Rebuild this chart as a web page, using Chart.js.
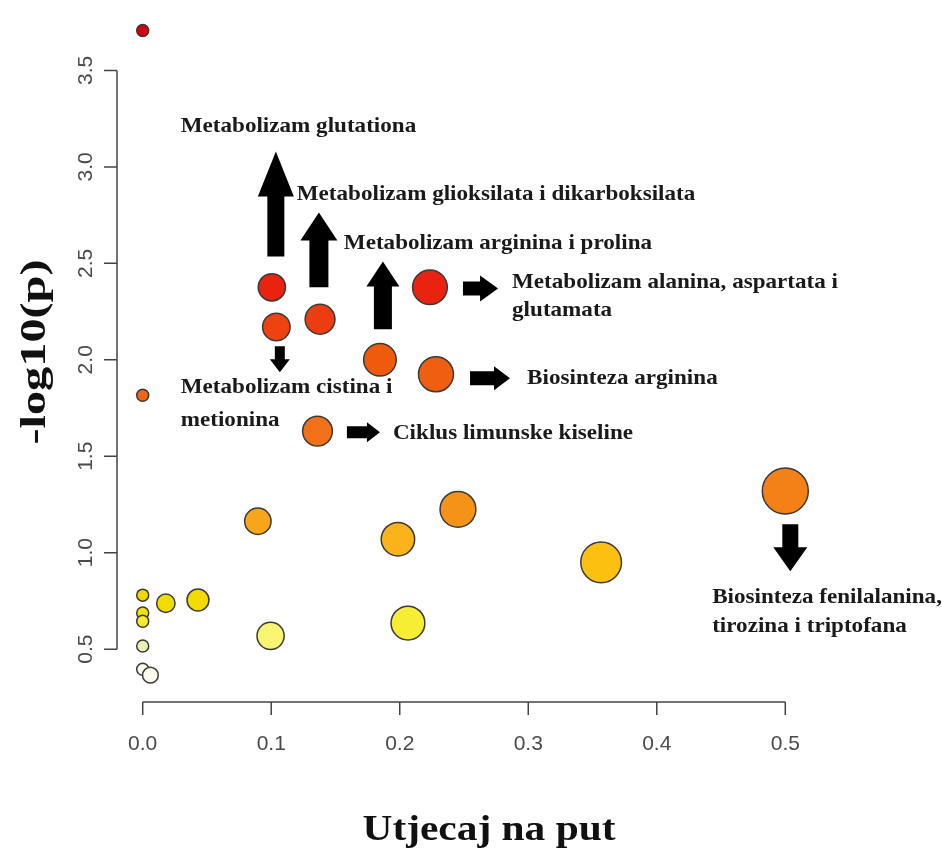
<!DOCTYPE html>
<html>
<head>
<meta charset="utf-8">
<script src="https://cdn.jsdelivr.net/npm/chart.js@4/dist/chart.umd.min.js"></script>
<style>
  body { margin: 0; background: #fff; }
  #wrap { width: 942px; height: 848px; }
</style>
</head>
<body>
<div id="wrap"><canvas id="chart" width="942" height="848"></canvas></div>
<script>
// pathway impact (x) and -log10(p) (y), one entry per pathway
const impact = [0, 0, 0, 0, 0, 0, 0, 0.006, 0.018, 0.043, 0.0995, 0.0896,
  0.1005, 0.104, 0.138, 0.136, 0.1846, 0.2235, 0.2282, 0.1986, 0.2064, 0.2453, 0.3567, 0.5];
const logP = [3.707, 1.816, 0.78, 0.687, 0.645, 0.516, 0.396, 0.365, 0.738, 0.755, 0.569, 1.163,
  2.376, 2.17, 2.21, 1.63, 2.0, 2.376, 1.925, 1.07, 0.635, 1.225, 0.95, 1.32];

const xTicks = [0, 0.1, 0.2, 0.3, 0.4, 0.5];
const yTicks = [0.5, 1.0, 1.5, 2.0, 2.5, 3.0, 3.5];

const xTitle = 'Utjecaj na put';
const yTitle = '-log10(p)';

// annotation labels: text, x, y (data units), left aligned
const labels = [
  ['Metabolizam glutationa', 0.0296, 3.210],
  ['Metabolizam glioksilata i dikarboksilata', 0.1199, 2.858],
  ['Metabolizam arginina i prolina', 0.1565, 2.604],
  ['Metabolizam alanina, aspartata i', 0.2874, 2.402],
  ['glutamata', 0.2874, 2.256],
  ['Metabolizam cistina i', 0.0296, 1.858],
  ['metionina', 0.0296, 1.687],
  ['Biosinteza arginina', 0.2991, 1.904],
  ['Ciklus limunske kiseline', 0.1947, 1.619],
  ['Biosinteza fenilalanina,', 0.4431, 0.769],
  ['tirozina i triptofana', 0.4431, 0.619]
];

// arrows: tail x, tail y, tip x, tip y (data units)
const arrows = [
  [0.1036, 2.536, 0.1036, 3.080],
  [0.1371, 2.376, 0.1371, 2.764],
  [0.1869, 2.158, 0.1869, 2.510],
  [0.2492, 2.370, 0.2765, 2.370],
  [0.1067, 2.070, 0.1067, 1.935],
  [0.2547, 1.904, 0.2858, 1.904],
  [0.1589, 1.624, 0.1846, 1.624],
  [0.5039, 1.148, 0.5039, 0.904]
];
// arrow shapes in px: shaft width, head width, head length
const arrowShape = [
  [17, 36, 45], [19, 37, 28], [18, 33, 25], [14, 26, 18],
  [10, 20, 13], [14, 24, 16], [12, 20, 13], [16, 34, 24]
];

const heatStops = [
  [0.36, '#fffff4'], [0.45, '#f6f6d0'], [0.52, '#eef0b0'], [0.57, '#faf570'],
  [0.64, '#f6ec30'], [0.70, '#f0e000'], [0.78, '#f2d800'], [0.95, '#fcc010'],
  [1.08, '#fbb21c'], [1.17, '#f8a41c'], [1.23, '#f59218'], [1.32, '#f48018'],
  [1.63, '#f27018'], [1.82, '#ef6618'], [2.0, '#f05a0c'], [2.2, '#ee3e12'],
  [2.38, '#ea2210'], [3.7, '#d40010']
];

function hexToRgb(h) {
  return [parseInt(h.slice(1, 3), 16), parseInt(h.slice(3, 5), 16), parseInt(h.slice(5, 7), 16)];
}

function heatColor(v) {
  if (v <= heatStops[0][0]) return heatStops[0][1];
  for (let i = 1; i < heatStops.length; i++) {
    if (v <= heatStops[i][0]) {
      const a = heatStops[i - 1], b = heatStops[i];
      const t = (v - a[0]) / (b[0] - a[0]);
      const ca = hexToRgb(a[1]), cb = hexToRgb(b[1]);
      const c = ca.map((q, k) => Math.round(q + (cb[k] - q) * t));
      return 'rgb(' + c.join(',') + ')';
    }
  }
  return heatStops[heatStops.length - 1][1];
}

// circle size grows with pathway impact
function radiusFor(x) {
  return 6 + 17 * Math.sqrt(x / 0.5);
}

const points = impact.map((x, i) => ({ x: x, y: logP[i] }));

const serif = '"Liberation Serif", "Times New Roman", serif';
const sans = '"Liberation Sans", Arial, sans-serif';

function stretchedText(ctx, text, x, y, sx, sy) {
  ctx.save();
  ctx.translate(x, y);
  ctx.scale(sx, sy);
  ctx.fillText(text, 0, 0);
  ctx.restore();
}

const axesPlugin = {
  id: 'rAxes',
  beforeDatasetsDraw(chart) {
    const { ctx, chartArea, scales } = chart;
    const xs = scales.x, ys = scales.y;
    ctx.save();
    ctx.strokeStyle = '#444';
    ctx.lineWidth = 1.5;
    // x axis
    const bx = chartArea.bottom;
    ctx.beginPath();
    ctx.moveTo(xs.getPixelForValue(xTicks[0]), bx);
    ctx.lineTo(xs.getPixelForValue(xTicks[xTicks.length - 1]), bx);
    xTicks.forEach(t => {
      const px = xs.getPixelForValue(t);
      ctx.moveTo(px, bx);
      ctx.lineTo(px, bx + 13);
    });
    ctx.stroke();
    ctx.fillStyle = '#4a4a4a';
    ctx.font = '21px ' + sans;
    ctx.textAlign = 'center';
    ctx.textBaseline = 'alphabetic';
    xTicks.forEach(t => {
      ctx.fillText(t.toFixed(1), xs.getPixelForValue(t), bx + 48);
    });
    // y axis
    const lx = chartArea.left;
    ctx.beginPath();
    ctx.moveTo(lx, ys.getPixelForValue(yTicks[0]));
    ctx.lineTo(lx, ys.getPixelForValue(yTicks[yTicks.length - 1]));
    yTicks.forEach(t => {
      const py = ys.getPixelForValue(t);
      ctx.moveTo(lx, py);
      ctx.lineTo(lx - 13, py);
    });
    ctx.stroke();
    yTicks.forEach(t => {
      ctx.save();
      ctx.translate(lx - 25, ys.getPixelForValue(t));
      ctx.rotate(-Math.PI / 2);
      ctx.fillText(t.toFixed(1), 0, 0);
      ctx.restore();
    });
    // titles
    ctx.fillStyle = '#111';
    ctx.font = 'bold 36px ' + serif;
    ctx.textAlign = 'center';
    stretchedText(ctx, xTitle, (xs.getPixelForValue(0) + xs.getPixelForValue(0.5)) / 2 + 25, 840, 1.15, 1);
    ctx.font = 'bold 35px ' + serif;
    ctx.save();
    ctx.translate(45, 352);
    ctx.rotate(-Math.PI / 2);
    ctx.scale(1.38, 1);
    ctx.fillText(yTitle, 0, 0);
    ctx.restore();
    ctx.restore();
  },
  afterDatasetsDraw(chart) {
    const { ctx, scales } = chart;
    const xs = scales.x, ys = scales.y;
    ctx.save();
    ctx.fillStyle = '#000';
    arrows.forEach((a, i) => {
      const [sw, hw, hl] = arrowShape[i];
      const x0 = xs.getPixelForValue(a[0]), y0 = ys.getPixelForValue(a[1]);
      const x1 = xs.getPixelForValue(a[2]), y1 = ys.getPixelForValue(a[3]);
      const len = Math.hypot(x1 - x0, y1 - y0);
      ctx.save();
      ctx.translate(x0, y0);
      ctx.rotate(Math.atan2(y1 - y0, x1 - x0));
      ctx.beginPath();
      ctx.moveTo(0, -sw / 2);
      ctx.lineTo(len - hl, -sw / 2);
      ctx.lineTo(len - hl, -hw / 2);
      ctx.lineTo(len, 0);
      ctx.lineTo(len - hl, hw / 2);
      ctx.lineTo(len - hl, sw / 2);
      ctx.lineTo(0, sw / 2);
      ctx.closePath();
      ctx.fill();
      ctx.restore();
    });
    ctx.fillStyle = '#1a1a1a';
    ctx.font = 'bold 21px ' + serif;
    ctx.textAlign = 'left';
    ctx.textBaseline = 'middle';
    labels.forEach(l => {
      stretchedText(ctx, l[0], xs.getPixelForValue(l[1]), ys.getPixelForValue(l[2]), 1.1, 1);
    });
    ctx.restore();
  }
};

new Chart(document.getElementById('chart'), {
  type: 'scatter',
  data: {
    datasets: [{
      data: points,
      pointRadius: c => radiusFor(c.raw.x),
      pointHoverRadius: c => radiusFor(c.raw.x),
      backgroundColor: c => heatColor(c.raw.y),
      borderColor: '#3a3a3a',
      borderWidth: 1.5,
      clip: false
    }]
  },
  options: {
    responsive: false,
    animation: false,
    layout: { autoPadding: false, padding: { left: 117, right: 131, top: 6, bottom: 146 } },
    plugins: { legend: { display: false }, tooltip: { enabled: false } },
    scales: {
      x: { type: 'linear', min: -0.02, max: 0.52, display: false },
      y: { type: 'linear', min: 0.226, max: 3.834, display: false }
    }
  },
  plugins: [axesPlugin]
});
</script>
</body>
</html>
